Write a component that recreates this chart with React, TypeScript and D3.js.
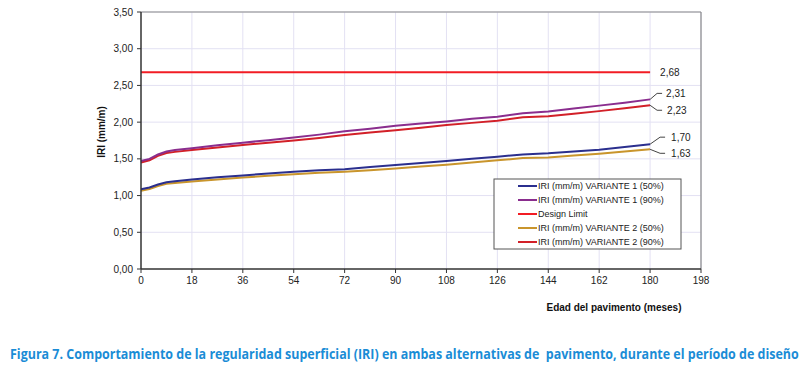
import React, { useLayoutEffect, useRef, useState } from "react"
import * as d3 from "d3"

// months on the x axis
const months = [0, 3, 6, 9, 12, 18, 27, 36, 45, 54, 63, 72, 81, 90, 99, 108, 117, 126, 135, 144, 153, 162, 171, 180]

const v1p50 = [1.085, 1.11, 1.15, 1.18, 1.195, 1.22, 1.25, 1.275, 1.3, 1.325, 1.345, 1.36, 1.39, 1.415, 1.445, 1.47, 1.5, 1.53, 1.56, 1.575, 1.6, 1.625, 1.66, 1.7]
const v1p90 = [1.47, 1.5, 1.56, 1.6, 1.62, 1.645, 1.685, 1.72, 1.755, 1.79, 1.83, 1.875, 1.91, 1.95, 1.98, 2.01, 2.045, 2.075, 2.12, 2.145, 2.185, 2.225, 2.265, 2.31]
const v2p50 = [1.065, 1.09, 1.13, 1.16, 1.17, 1.19, 1.22, 1.245, 1.27, 1.29, 1.31, 1.325, 1.345, 1.37, 1.395, 1.42, 1.45, 1.48, 1.51, 1.52, 1.545, 1.57, 1.6, 1.63]
const v2p90 = [1.45, 1.48, 1.54, 1.58, 1.595, 1.62, 1.655, 1.69, 1.72, 1.75, 1.785, 1.825, 1.86, 1.89, 1.925, 1.96, 1.99, 2.02, 2.065, 2.08, 2.115, 2.15, 2.19, 2.23]
const designLimit = 2.68

const xTicks = [0, 18, 36, 54, 72, 90, 108, 126, 144, 162, 180, 198]
const yTicks = [0, 0.5, 1, 1.5, 2, 2.5, 3, 3.5]

const legendLabels = [
  "IRI (mm/m) VARIANTE 1 (50%)",
  "IRI (mm/m) VARIANTE 1 (90%)",
  "Design Limit",
  "IRI (mm/m) VARIANTE 2 (50%)",
  "IRI (mm/m) VARIANTE 2 (90%)",
]

const caption =
  "Figura 7. Comportamiento de la regularidad superficial (IRI) en ambas alternativas de  pavimento, durante el período de diseño"

const colors = {
  v1p50: "#2b2f8e",
  v1p90: "#8a2d8e",
  limit: "#f21c24",
  v2p50: "#c9952c",
  v2p90: "#d22028",
}

const fmt = (v: number) => v.toFixed(2).replace(".", ",")

export default function App() {
  const width = 806
  const height = 370
  const left = 141
  const right = 701
  const top = 12
  const bottom = 269

  const captionRef = useRef<SVGTextElement>(null)
  const [captionScale, setCaptionScale] = useState(0.8)

  // squeeze the caption horizontally to fit the reference's condensed face
  useLayoutEffect(() => {
    if (!captionRef.current) return
    const w = captionRef.current.getComputedTextLength()
    if (w > 0) setCaptionScale(788 / w)
  }, [])

  const x = d3.scaleLinear().domain([0, 198]).range([left, right])
  const y = d3.scaleLinear().domain([0, 3.5]).range([bottom, top])

  const line = d3
    .line<number>()
    .x((_, i) => x(months[i]))
    .y((d) => y(d))

  const series = [
    { key: "v2p50", values: v2p50, color: colors.v2p50 },
    { key: "v1p50", values: v1p50, color: colors.v1p50 },
    { key: "v2p90", values: v2p90, color: colors.v2p90 },
    { key: "v1p90", values: v1p90, color: colors.v1p90 },
  ]

  const legendColors = [colors.v1p50, colors.v1p90, colors.limit, colors.v2p50, colors.v2p90]

  const lastX = x(months[months.length - 1])

  // end-of-line labels with small leader lines
  const endLabels = [
    { v: v1p90[v1p90.length - 1], dy: -6, dx: 7, tx: 16 },
    { v: v2p90[v2p90.length - 1], dy: 5, dx: 7, tx: 17 },
    { v: v1p50[v1p50.length - 1], dy: -7, dx: 10, tx: 21 },
    { v: v2p50[v2p50.length - 1], dy: 4, dx: 10, tx: 21 },
  ]

  const font = "'Liberation Sans', Arial, sans-serif"

  return (
    <svg width={width} height={height} style={{ position: "absolute", left: 0, top: 0, background: "#fff" }} fontFamily={font}>
      {/* grid */}
      {xTicks.slice(1).map((t) => (
        <line key={"gx" + t} x1={x(t)} x2={x(t)} y1={top} y2={bottom} stroke="#e3e1f3" strokeWidth={1} />
      ))}
      {yTicks.slice(1).map((t) => (
        <line key={"gy" + t} x1={left} x2={right} y1={y(t)} y2={y(t)} stroke="#e3e1f3" strokeWidth={1} />
      ))}

      {/* frame */}
      <line x1={left} x2={right} y1={top} y2={top} stroke="#8a8a8a" strokeWidth={1.2} />
      <line x1={right} x2={right} y1={top} y2={bottom} stroke="#8a8a8a" strokeWidth={1.2} />

      {/* series */}
      <line x1={x(0)} x2={lastX} y1={y(designLimit)} y2={y(designLimit)} stroke={colors.limit} strokeWidth={2} />
      {series.map((s) => (
        <path key={s.key} d={line(s.values) || ""} fill="none" stroke={s.color} strokeWidth={2} />
      ))}

      {/* axes */}
      <line x1={left} x2={left} y1={top} y2={bottom} stroke="#333" strokeWidth={1.5} />
      <line x1={left} x2={right} y1={bottom} y2={bottom} stroke="#333" strokeWidth={1.5} />
      {yTicks.map((t) => (
        <g key={"ty" + t}>
          <line x1={left - 4} x2={left} y1={y(t)} y2={y(t)} stroke="#333" strokeWidth={1} />
          <text x={133} y={y(t) + 3.5} textAnchor="end" fontSize={10} fill="#222">
            {fmt(t)}
          </text>
        </g>
      ))}
      {xTicks.map((t) => (
        <g key={"tx" + t}>
          <line x1={x(t)} x2={x(t)} y1={bottom} y2={bottom + 4} stroke="#333" strokeWidth={1} />
          <text x={x(t)} y={284} textAnchor="middle" fontSize={10} fill="#222">
            {t}
          </text>
        </g>
      ))}

      {/* axis titles */}
      <text transform="translate(105,132) rotate(-90)" textAnchor="middle" fontSize={10} fontWeight="bold" fill="#111">
        IRI (mm/m)
      </text>
      <text x={614} y={311} textAnchor="middle" fontSize={10} fontWeight="bold" fill="#111">
        Edad del pavimento (meses)
      </text>

      {/* design limit label */}
      <text x={lastX + 10} y={y(designLimit) + 3.5} fontSize={10} fill="#222">
        {fmt(designLimit)}
      </text>

      {/* end labels */}
      {endLabels.map((l, i) => {
        const y0 = y(l.v)
        return (
          <g key={"el" + i}>
            <polyline
              points={`${lastX},${y0} ${lastX + l.dx},${y0 + l.dy} ${lastX + l.dx + 5},${y0 + l.dy}`}
              fill="none"
              stroke="#444"
              strokeWidth={1}
            />
            <text x={lastX + l.tx} y={y0 + l.dy + 3.5} fontSize={10} fill="#222">
              {fmt(l.v)}
            </text>
          </g>
        )
      })}

      {/* legend */}
      <rect x={494} y={179} width={187} height={70} fill="#fff" stroke="#555" strokeWidth={1} />
      {legendLabels.map((lab, i) => {
        const ly = 186 + i * 14
        return (
          <g key={"lg" + i}>
            <line x1={518} x2={537} y1={ly} y2={ly} stroke={legendColors[i]} strokeWidth={2} />
            <text x={538} y={ly + 3.2} fontSize={9} fill="#222">
              {lab}
            </text>
          </g>
        )
      })}

      {/* caption */}
      <g transform={`translate(10,359) scale(${captionScale},1)`}>
        <text
          ref={captionRef}
          x={0}
          y={0}
          fontSize={14}
          fontWeight="bold"
          fill="#1a8cd6"
          fontFamily="'Open Sans', 'Noto Sans', sans-serif"
          style={{ whiteSpace: "pre" }}
        >
          {caption}
        </text>
      </g>
    </svg>
  )
}
